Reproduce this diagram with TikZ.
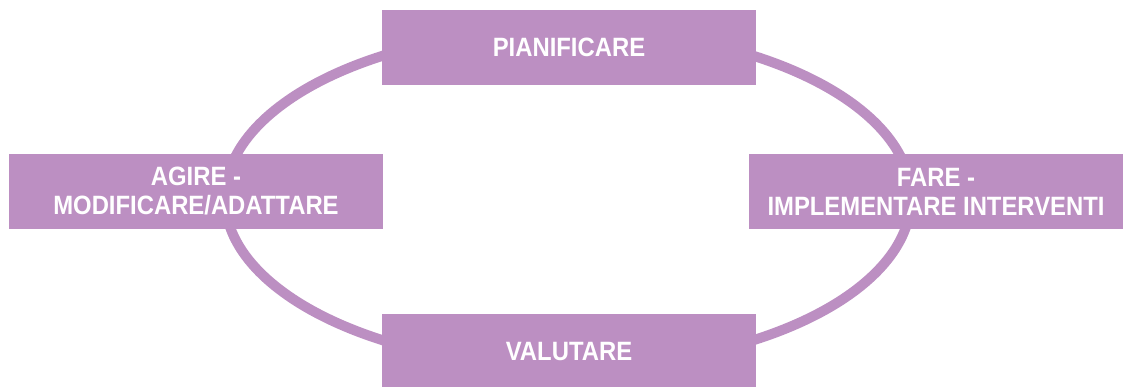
\documentclass[tikz,border=0pt]{standalone}
\usepackage{fontspec}
\setmainfont{Liberation Sans}[FakeStretch=0.9]
\definecolor{lil}{RGB}{188,143,194}
\begin{document}
\begin{tikzpicture}[x=1pt,y=-1pt,
 box/.style={fill=lil, minimum width=374pt, minimum height=75pt, inner sep=0pt, text=white,
   font=\fontsize{26.5}{29}\selectfont\bfseries, align=center}]
\useasboundingbox (0,0) rectangle (1125,387);
\coordinate (c) at (568,198);
\draw[lil, line width=10pt] (c) ellipse [x radius=343, y radius=169];
\node[box] (plan) at (569,47.75) {PIANIFICARE};
\node[box] (fare) at (936,191.5) {FARE -\\IMPLEMENTARE INTERVENTI};
\node[box] (agire) at (196,191.5) {AGIRE -\\MODIFICARE/ADATTARE};
\node[box] (val) at (569,351.5) {VALUTARE};
\end{tikzpicture}
\end{document}
